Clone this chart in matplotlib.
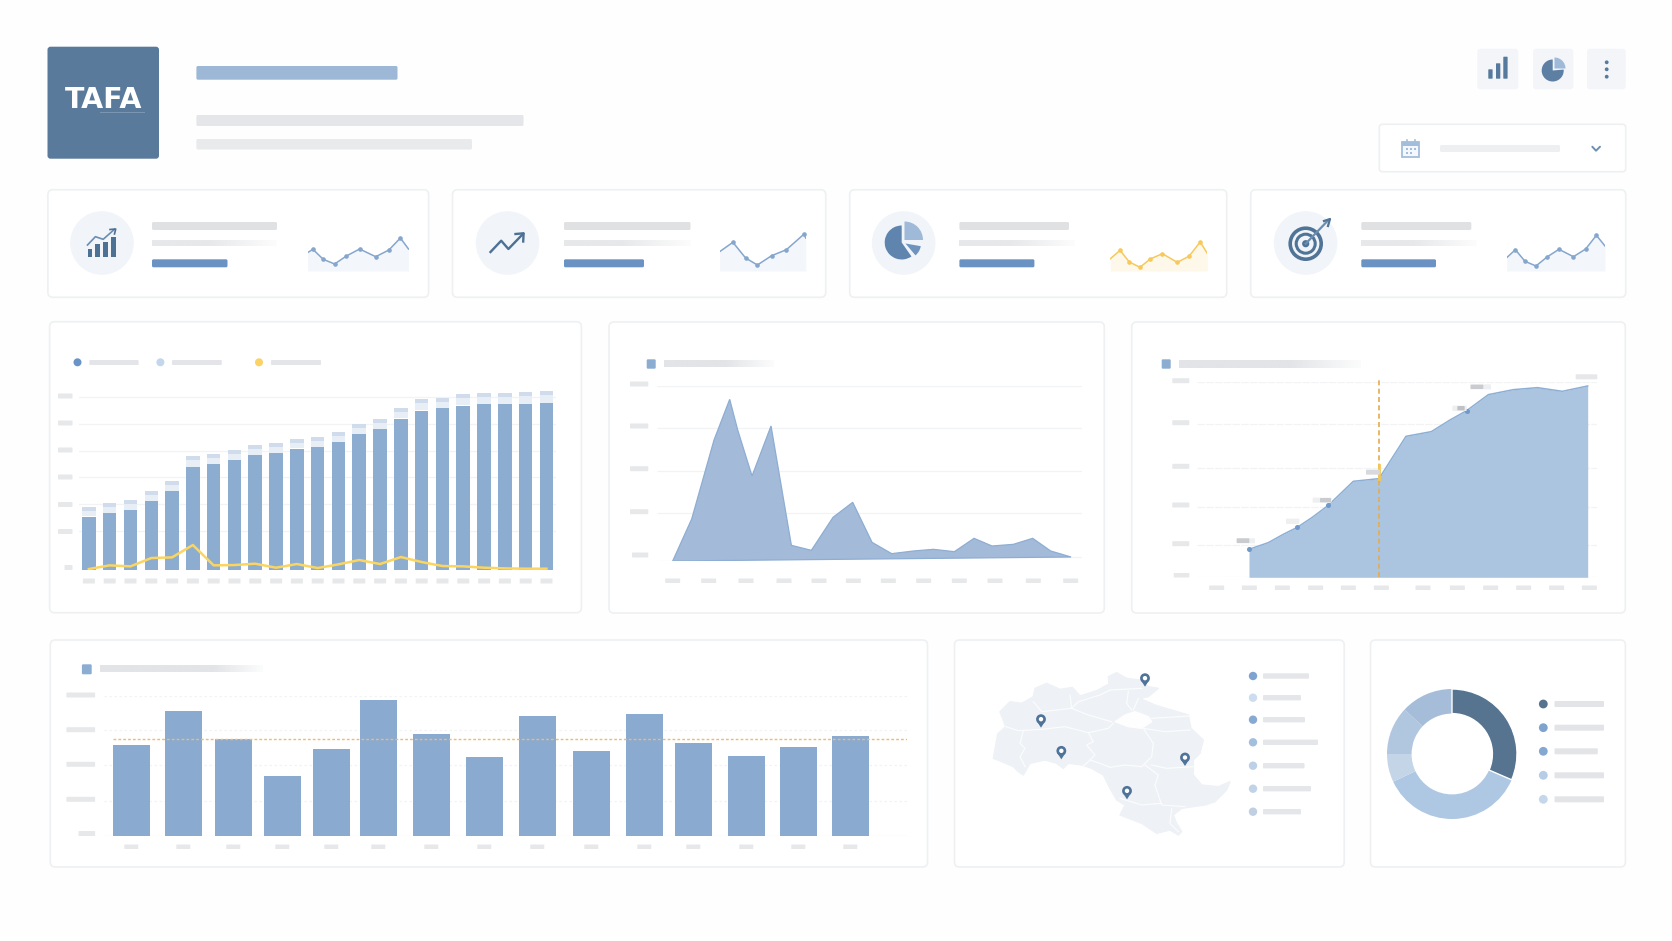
import numpy as np
import matplotlib
matplotlib.use("Agg")
import matplotlib.pyplot as plt
from matplotlib.patches import FancyBboxPatch, Circle, Wedge, Polygon, Rectangle
from matplotlib.colors import to_rgb

W, H = 1672, 941

# ---------- data ----------
stack_main = [159,170,178,206,236,308,317,329,344,349,363,367,383,407,422,453,477,484,492,497,496,496,499]
stack_total = [187,201,208,235,265,341,346,359,373,380,391,399,413,438,452,485,511,515,526,531,529,532,536]
stack_line = [2,13,10,35,37,74,13,14,18,6,17,5,16,29,17,38,23,11,10,6,4,3,3]

peak_x = [48,105,172,219,243,286,343,404,464,529,588,646,705,770,830,893,952,1006,1070,1128,1182,1243]
peak_v = [0,126,363,485,393,255,405,47,32,131,176,56,22,30,35,28,68,45,50,68,30,12]

grow_x = [155,213,258,300,345,393,468,545,626,702,758,808,873,948,1020,1095,1171]
grow_v = [84,104,129,150,180,216,288,296,423,437,472,500,548,563,569,558,574]
grow_marked = [0,3,5,11]

col_x = [27,79,129,178,227,274,327,380,433,487,540,589,642,694,746]
col_v = [271,374,290,179,260,406,306,237,359,254,365,279,240,267,299]
col_mean = 289

donut_v = [31.5,36.5,7,12,13]
donut_c = ['#56748f','#aec7e2','#c5d5e8','#b1c6df','#a5bdd9']

spark_sets = [
    ([0,5.4,15.7,27.1,38.9,52.1,68.2,81.4,92.9,101],[18.3,21.7,11.7,7,15,22,14.3,21,33,22],307.5,'#86a6cd'),
    ([0,13.3,26,37.8,52,66.8,84.2,86.2],[19.3,28.7,13,6,15.3,21.3,36.7,33],719.6,'#86a6cd'),
    ([0,9.7,18.9,29.6,39.8,52,66.8,78.6,89.8,96.9],[12.3,20.7,9,3.7,12,17.3,8.7,14.7,29,17.7],1110.4,'#f6c95a'),
    ([0,8.7,18.3,29.3,40.3,52.3,66.7,79,89.7,98.3],[13.3,21.3,9.7,5,14,21.7,14.3,22,35.7,25],1506.7,'#86a6cd'),
]

map_outline = [(25,295),(38,222),(62,200),(45,155),(75,125),(110,130),(145,110),(150,85),(185,70),(225,88),(262,82),(285,108),(335,92),(372,72),(370,50),(395,38),(425,55),(465,60),(490,80),(520,85),(490,110),(465,115),(510,135),(560,150),(610,165),(618,205),(655,240),(645,280),(625,300),(625,345),(650,375),(700,380),(735,365),(725,390),(690,425),(660,435),(590,445),(565,465),(575,490),(590,515),(580,525),(555,510),(515,520),(470,490),(405,465),(420,435),(395,420),(375,385),(355,345),(320,325),(290,315),(250,310),(235,325),(215,310),(180,300),(135,310),(115,345),(100,335),(85,320),(50,305)]
map_lake = [(390,185),(420,165),(450,155),(490,170),(500,185),(470,205),(430,200)]
map_lines = [
    [(62,200),(100,212),(170,208),(240,200),(310,218),(370,205),(385,190)],
    [(115,212),(105,250),(120,265),(105,290),(120,320)],
    [(310,218),(325,245),(305,255),(330,285),(310,305),(295,318)],
    [(315,300),(345,310),(375,322),(420,315),(470,320),(500,290),(505,250),(475,205)],
    [(145,125),(170,155),(260,145),(255,105)],
    [(260,145),(280,125),(345,105),(375,90),(470,85)],
    [(260,145),(310,165),(380,185)],
    [(430,95),(425,130),(440,150)],
    [(460,115),(445,150)],
    [(500,175),(615,168)],
    [(475,205),(540,215),(615,210)],
    [(480,315),(520,345),(510,375),(530,435),(600,440)],
    [(405,415),(470,435),(530,430)],
    [(500,315),(545,325),(625,320)],
    [(560,445),(555,490),(580,515)],
]
map_pins = [(480,80),(168,203),(229,298),(600,318),(426,418)]
map_leg_y = [676,697.7,719.7,742.3,765.7,788.7,811.7]
map_leg_end = [1309,1301,1305,1318,1304.5,1311,1301]
map_leg_c = ['#7fa3cf','#cddcee','#88aad2','#a4bfde','#bcd0e7','#c2d3e8','#c0cfe3']

# ---------- helpers ----------
fig = plt.figure(figsize=(W/100, H/100), dpi=100, facecolor='#fefefe')

def full_axes(z):
    a = fig.add_axes([0,0,1,1], zorder=z)
    a.set_xlim(0,W); a.set_ylim(H,0); a.axis('off'); a.patch.set_alpha(0)
    return a
bg = full_axes(0)
top = full_axes(5)

def rbar(x0,y0,x1,y1,c,r=1.5,ax=bg,**k):
    ax.add_patch(FancyBboxPatch((x0,y0),x1-x0,y1-y0,boxstyle=f"round,pad=0,rounding_size={r}",fc=c,ec='none',**k))

def panel(x0,y0,x1,y1,fc='#ffffff',ec='#eef0f2',r=5,lw=1.2):
    bg.add_patch(FancyBboxPatch((x0,y0),x1-x0,y1-y0,boxstyle=f"round,pad=0,rounding_size={r}",fc=fc,ec=ec,lw=lw))

def fade(x0,y0,x1,y1,c='#e2e4e7',start=0.55,ax=bg):
    rgb = to_rgb(c)
    n = 64
    a = np.ones(n); k = int(n*start)
    a[k:] = np.linspace(1,0.12,n-k)
    img = np.zeros((1,n,4)); img[0,:,:3] = rgb; img[0,:,3] = a
    ax.imshow(img,extent=(x0,x1,y1,y0),aspect='auto',interpolation='bilinear',zorder=3)
    ax.set_xlim(0,W); ax.set_ylim(H,0)

def chart_axes(x0,y0,x1,y1,xlim,ylim):
    a = fig.add_axes([x0/W,1-y1/H,(x1-x0)/W,(y1-y0)/H],zorder=2)
    a.set_xlim(*xlim); a.set_ylim(*ylim); a.axis('off'); a.patch.set_alpha(0)
    return a

GRID='#f2f3f5'; LBL='#e7e8ea'

# ---------- header ----------
rbar(47.5,46.7,159,158.7,'#5a7a9b',r=3)
bg.text(103.5,99.5,'TAFA',color='white',ha='center',va='center',fontsize=20.5,family='DejaVu Sans',fontweight='bold')
rbar(100,112,145,113,'#7b96b2',r=0.3)
rbar(196.4,66,397.5,79.7,'#9db8d7')
rbar(196.4,115,523.5,126,'#e5e6e9')
rbar(196.4,139,472,149.5,'#e9eaec')

for (a,b) in [(1477.3,1518.3),(1533,1573.3),(1587,1625.7)]:
    rbar(a,48.7,b,89.3,'#f3f5f8',r=3)
for x0,t in [(1488.3,69.3),(1496,63.3),(1503.3,56.7)]:
    rbar(x0,t,x0+4.3,78.7,'#557a9e',r=0.6)
bg.add_patch(Wedge((1552.7,70.5),11,-5,270,fc='#5c7fa3',ec='none'))
bg.add_patch(Wedge((1554.5,68.5),11,270,360,fc='#9fbad8',ec='none'))
for y in (62.3,69.3,76.7):
    bg.add_patch(Circle((1606.7,y),1.9,fc='#557a9e',ec='none'))

panel(1379.3,124.3,1625.7,171.7,r=3)
bg.add_patch(Rectangle((1402.3,141.5),17,15,fc='#f4f7fb',ec='#a3bedb',lw=1.3))
bg.add_patch(Rectangle((1402.3,141.5),17,4,fc='#a3bedb',ec='none'))
for x in (1406.5,1415):
    bg.plot([x,x],[139.5,143],color='#a3bedb',lw=1.2)
for x,y in [(1407,149),(1411,149),(1415,149),(1407,153),(1411,153)]:
    bg.add_patch(Rectangle((x-1,y-1),2,2,fc='#a3bedb',ec='none'))
rbar(1440,145,1560,152,'#eeeff1')
bg.plot([1592.3,1596,1600],[146.7,150.7,146.7],color='#6d8fb5',lw=1.4,solid_capstyle='round')

# ---------- KPI cards ----------
cards = [(47.9,428.6,102,152,277,277,227.5),(452.5,825.7,507.6,564,690.5,690.5,644),
         (849.7,1226.7,903.7,959.4,1069,1074.7,1034.4),(1250.7,1625.7,1305.6,1361.3,1471.3,1476.7,1436)]
for x0,x1,cx,bx,e1,e2,e3 in cards:
    panel(x0,189.7,x1,297.3)
    bg.add_patch(Circle((cx,243),31.8,fc='#f1f4f8',ec='none'))
    rbar(bx,222,e1,230,'#e0e1e3')
    fade(bx,240.3,e2,246,c='#e7e8ea',start=0.45)
    rbar(bx,259.3,e3,267.3,'#6a93c4')

for xs,vs,x0,c in spark_sets:
    w = max(xs); h = 45
    a = chart_axes(x0,271-h,x0+w,271,(0,w),(0,h))
    a.fill_between(xs,vs,0,color='#fdf8ea' if c=='#f6c95a' else '#f3f6fa',lw=0)
    a.plot(xs,vs,color=c,lw=1.1)
    a.plot(xs[1:-1],vs[1:-1],'o',color=c,ms=2.3)

IC='#4d7095'
# icon 1
for x0,t in [(87.5,249.3),(95.4,244.3),(103.2,242),(111,237.3)]:
    bg.add_patch(Rectangle((x0,t),4.8,257-t,fc=IC,ec='none'))
bg.plot([87.5,95.4,103.2,114.5],[245,236.7,239.3,229.3],color='#6a8db2',lw=1.2)
bg.plot([110,115.7,114.5],[229.5,229,234],color=IC,lw=1.2)
# icon 2
bg.plot([490.5,501.2,508.4,523.2],[252,240.7,249,233.7],color=IC,lw=1.7)
bg.plot([515.5,523.6,523.2],[234,233.3,241.5],color=IC,lw=1.7)
# icon 3
bg.add_patch(Wedge((901.7,242.5),17,55,270,fc='#5f85af',ec='none'))
bg.add_patch(Wedge((904.5,240),18.5,270,360,fc='#9fbad8',ec='none'))
bg.add_patch(Wedge((905.5,243.5),15.5,10,50,fc='#6e94be',ec='none'))
# icon 4
for r,lw in [(15.5,2.6),(9.5,2.2)]:
    bg.add_patch(Circle((1305.7,243.7),r,fc='none',ec='#507497',lw=lw))
bg.add_patch(Circle((1305.7,243.7),3.6,fc='#507497',ec='none'))
bg.plot([1305.7,1327],[243.7,221.5],color='#6a8db2',lw=1.6)
bg.plot([1324,1330,1328],[221,219,226],color='#507497',lw=1.6)

# ---------- chart 1 : stacked bars + line ----------
panel(49.6,321.7,581.4,612.7)
for x,c,(a,b) in zip((77.5,160.4,259),('#6a94c8','#c3d6ec','#fbd264'),((89.3,138.6),(172,221.8),(271,321))):
    bg.add_patch(Circle((x,362.3),4,fc=c,ec='none'))
    rbar(a,360,b,365,'#e4e5e8',r=1)
ax1 = chart_axes(79.3,383,556,569.7,(-0.46,22.46),(0,560))
xx = np.arange(len(stack_main))
main = np.array(stack_main); tot = np.array(stack_total)
for g in (115,196,277,357,438,519):
    ax1.axhline(g,color=GRID,lw=0.9,zorder=0)
ax1.bar(xx,main,width=0.65,color='#8dadd0',zorder=2)
ax1.bar(xx,tot-main-12,bottom=main+1.5,width=0.65,color='#e8eef6',zorder=2)
ax1.bar(xx,12,bottom=tot-12,width=0.65,color='#d0dceb',zorder=2)
ax1.plot(xx,stack_line,color='#fbd55f',lw=1.8,zorder=3)
for y in (396,423,450,477,504.5,531.5):
    rbar(58,y-2.5,72.5,y+2.5,LBL,r=0.8)
rbar(64.5,565,72.5,570,LBL,r=0.8)
for x in xx:
    cx = 88.9+x*20.8
    rbar(cx-6,578.5,cx+6,583.5,LBL,r=0.5)

# ---------- chart 2 : area ----------
panel(609,322,1104.3,613)
rbar(646.7,359.3,655.7,368.7,'#8cadd2',r=1.2)
fade(664,360.7,773.7,367)
ax2 = chart_axes(656.7,386,1081.7,561,(0,425*3),(0,525))
for g,(a,b) in zip((525,398,271,143,11),((0,1275),(0,1275),(0,1275),(0,1275),(1100,1275))):
    ax2.hlines(g,a,b,color=GRID,lw=0.9,zorder=0)
ax2.hlines(0,0,50,color=GRID,lw=0.9,zorder=0)
ax2.fill(peak_x,peak_v,facecolor='#a3bbd9',edgecolor='#8dadd3',lw=0.9,zorder=2)
for y,l in zip((384,426,468.7,511.7,555),(630,630,630,630,632)):
    rbar(l,y-2.5,648.3,y+2.5,LBL,r=0.8)
for c in (218,326,438,552,657,760,865,971,1078,1185,1300,1412):
    cx = 600+c/3
    rbar(cx-7.5,578.5,cx+7.5,583,LBL,r=0.5)

# ---------- chart 3 : area with marker ----------
panel(1131.7,322,1625.3,613)
rbar(1161.7,359.3,1170.7,368.7,'#8cadd2',r=1.2)
fade(1179,360,1361,367.7,start=0.6)
ax3 = chart_axes(1197.3,382.3,1596.7,577.3,(0,1198),(0,585))
for g in (585,459,329,212,97,0):
    ax3.axhline(g,color=GRID,lw=0.9,ls=(0,(6,1)),zorder=0)
ax3.fill_between(grow_x,grow_v,0,color='#abc4e0',lw=0,zorder=2)
ax3.plot(grow_x,grow_v,color='#8dafd5',lw=1.1,zorder=3)
ax3.plot([grow_x[i] for i in grow_marked],[grow_v[i] for i in grow_marked],'o',color='#6f99cc',ms=2.6,zorder=4,clip_on=False)
ax3.plot([grow_x[7]]*2,[0,592],color='#e5ab4d',lw=1.2,ls=(0,(3,2)),zorder=5,clip_on=False)
ax3.plot([grow_x[7]]*2,[296,337],color='#f4c653',lw=2.0,zorder=5)
for y,l in zip((380.7,422.7,466.3,505,543.7),(1172.3,)*5):
    rbar(l,y-2.5,1189.3,y+2.5,LBL,r=0.8)
rbar(1173.7,573,1189.3,577.5,LBL,r=0.8)
for c in (260,358,457,557,655,754,879,982,1082,1181,1280,1378):
    cx = 1130+c/3
    rbar(cx-7.5,585.5,cx+7.5,590,LBL,r=0.5)
for a,b,y0,y1,c in [(320,375,655,670,'#eeeff0'),(320,358,655,669,'#c9cbce'),(468,508,596,612,'#eeeff0'),
                    (548,605,533,548,'#eeeff0'),(570,603,534,547,'#c9cbce'),(708,750,449,464,'#d8d9dc'),
                    (967,1010,257,273,'#eeeff0'),(982,1004,258,271,'#bfc1c5'),(1020,1083,193,208,'#eeeff0'),
                    (1022,1060,194,207,'#c9cbce'),(1337,1402,163,178,'#e6e7e9')]:
    rbar(1130+a/3,320+y0/3,1130+b/3,320+y1/3,c,r=0.8,ax=top)

# ---------- chart 4 : bars ----------
panel(50.3,640,927.5,867)
rbar(81.9,664.3,91.7,674.3,'#8cadd2',r=1.2)
fade(99.7,666,262.7,672.3,start=0.7)
ax4 = chart_axes(104.3,695.7,906.8,835.7,(0,802.5),(0,420))
for g in (105,211,316,420):
    ax4.axhline(g,color=GRID,lw=0.9,ls=(0,(2,2)),zorder=0)
ax4.axhline(0,color=GRID,lw=1.0,zorder=0)
ax4.bar(col_x,col_v,width=37.3,color='#8aaad0',zorder=2)
ax4.hlines(col_mean,8.6,802.5,color='#eebb70',lw=1.0,ls=(0,(2,1.5)),zorder=3)
for y in (695,729.7,764.3,799.3):
    rbar(66.4,y-2.5,95.1,y+2.5,LBL,r=0.8)
rbar(78.5,831,95.1,836,LBL,r=0.8)
for c in col_x:
    cx = 104.3+c
    rbar(cx-7,844.5,cx+7,849,LBL,r=0.5)

# ---------- map ----------
panel(954.5,640,1344.2,867)
def mp(p): return (985+p[0]/3,660+p[1]/3)
bg.add_patch(Polygon([mp(p) for p in map_outline],closed=True,fc='#eef1f5',ec='#eef1f5',lw=1.0,joinstyle='round'))
for ln in map_lines:
    q = [mp(p) for p in ln]
    bg.plot([a for a,b in q],[b for a,b in q],color='#fbfcfd',lw=0.9,solid_joinstyle='round')
bg.add_patch(Polygon([mp(p) for p in map_lake],closed=True,fc='#fefefe',ec='#fefefe',lw=1.0))
for p in map_pins:
    x,y = mp(p)
    top.add_patch(Circle((x,y-8.5),4.9,fc='#4f7399',ec='none'))
    top.add_patch(Polygon([(x-4.5,y-7),(x+4.5,y-7),(x,y)],closed=True,fc='#4f7399',ec='none'))
    top.add_patch(Circle((x,y-8.5),2.2,fc='white',ec='none'))
for y,e,c in zip(map_leg_y,map_leg_end,map_leg_c):
    bg.add_patch(Circle((1253,y),4.2,fc=c,ec='none'))
    rbar(1263,y-2.7,e,y+2.7,'#e5e6e9',r=1)

# ---------- donut ----------
panel(1370.5,640,1625.4,867)
ax5 = chart_axes(1452-70,754-70,1452+70,754+70,(-70,70),(-70,70))
ax5.set_aspect('equal')
wedges,_ = ax5.pie(donut_v,colors=donut_c,startangle=90,counterclock=False,radius=65,center=(0,0),frame=True,
        wedgeprops=dict(width=24.6,linewidth=0))
wedges[0].set_edgecolor('white'); wedges[0].set_linewidth(1.0); wedges[0].set_zorder(5)
ax5.set_xlim(-70,70); ax5.set_ylim(-70,70); ax5.axis('off')
for y,c,e in zip((704,727.7,751.3,775.3,799.3),('#56748f','#7ea3cf','#84a8d3','#b5cde6','#c5d7eb'),(1604,1604,1597.8,1604,1604)):
    bg.add_patch(Circle((1543.3,y),4.4,fc=c,ec='none'))
    rbar(1554.5,y-3,e,y+3,'#e3e4e7',r=1)

fig.savefig('out.png',dpi=100,facecolor=fig.get_facecolor())
